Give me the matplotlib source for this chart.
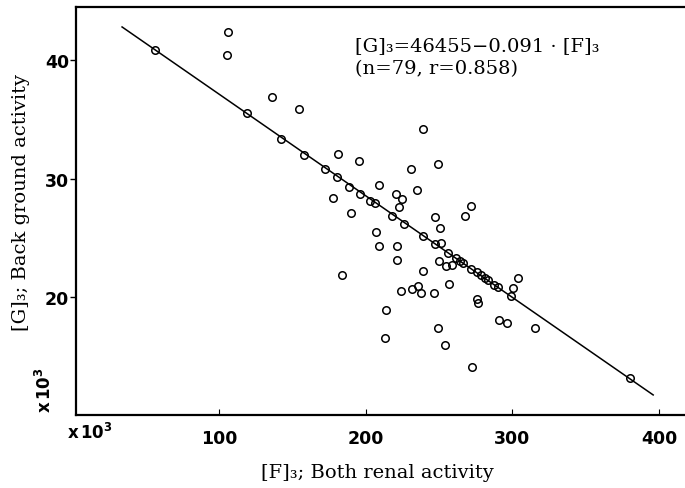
import matplotlib
matplotlib.use("Agg")
import matplotlib.pyplot as plt

# Data (x10^3)
F = [56.1, 106.4, 105.3, 118.9, 136.0, 154.6, 142.3, 158.2, 181.4, 172.3,
     180.3, 178.0, 195.7, 230.7, 188.9, 209.3, 235.2, 196.2, 220.7, 224.9,
     203.0, 206.4, 222.8, 189.8, 218.2, 226.2, 207.1, 209.1, 221.6, 239.3,
     249.1, 271.6, 267.7, 247.3, 250.3, 239.3, 247.3, 251.2, 221.2, 184.1,
     223.9, 231.4, 213.7, 213.2, 255.9, 261.6, 263.9, 266.6, 271.8, 275.7,
     278.4, 281.4, 283.0, 287.7, 290.0, 299.1, 249.6, 254.8, 259.1, 239.3,
     235.9, 237.8, 246.6, 256.4, 304.1, 300.3, 276.1, 276.4, 290.5, 296.6,
     315.5, 249.1, 254.1, 272.3, 379.8]
G = [40.84, 42.33, 40.45, 35.51, 36.86, 35.87, 33.35, 32.03, 32.08, 30.82,
     30.17, 28.38, 31.47, 30.82, 29.33, 29.47, 29.08, 28.72, 28.72, 28.30,
     28.15, 27.93, 27.60, 27.12, 26.84, 26.19, 25.49, 24.36, 24.36, 34.19,
     31.24, 27.73, 26.84, 26.75, 25.83, 25.20, 24.50, 24.59, 23.18, 21.89,
     20.57, 20.72, 18.92, 16.62, 23.75, 23.30, 23.10, 22.88, 22.40, 22.12,
     21.92, 21.62, 21.50, 21.08, 20.86, 20.15, 23.10, 22.63, 22.76, 22.26,
     20.94, 20.38, 20.35, 21.14, 21.64, 20.78, 19.87, 19.54, 18.13, 17.83,
     17.41, 17.41, 16.00, 14.12, 13.20]

line_F = [33.9, 395.9]
line_G = [42.78, 11.79]

x_ticks = [100, 200, 300, 400]
y_ticks = [20, 30, 40]

fig = plt.figure(figsize=(6.85, 4.89), dpi=100)
W, H = 685, 489
ax = fig.add_axes([76 / W, 1 - 416 / H, 1 - 76 / W, (416 - 8) / H])

ax.plot(line_F, line_G, color="black", lw=1.1, zorder=2)
ax.plot(F, G, linestyle="none", marker="o", markersize=5.4,
        markerfacecolor="none", markeredgecolor="black",
        markeredgewidth=1.1, zorder=3)

ax.set_xlim(2.5, 417.6)
ax.set_ylim(10.1, 44.46)

for s in ["left", "bottom", "top"]:
    ax.spines[s].set_linewidth(1.6)
ax.spines["right"].set_visible(False)

ax.set_xticks(x_ticks)
ax.set_yticks(y_ticks)
ax.set_xticklabels([str(v) for v in x_ticks], fontweight="bold",
                   fontsize=12.5, family="DejaVu Sans")
ax.set_yticklabels([str(v) for v in y_ticks], fontweight="bold",
                   fontsize=12.5, family="DejaVu Sans")
ax.tick_params(axis="x", direction="in", length=4, width=0.8, pad=10)
ax.tick_params(axis="y", direction="out", length=4, width=1.0, pad=1)

# multiplier labels
fig.text(90 / W, 1 - 433 / H, r"$\mathbf{x\,10^3}$", ha="center", va="center",
         fontsize=12)
fig.text(45 / W, 1 - 390 / H, r"$\mathbf{x\,10^3}$", ha="center", va="center",
         fontsize=12, rotation=90)

# axis labels
serif = ["DejaVu Serif"]
fig.text(377 / W, 1 - 473 / H, "[F]\u2083; Both renal activity",
         ha="center", va="center", fontsize=14, family=serif)
fig.text(21 / W, 1 - 203 / H, "[G]\u2083; Back ground activity",
         ha="center", va="center", fontsize=14, family=serif, rotation=90)

# equation
fig.text(355 / W, 1 - 46 / H, "[G]\u2083=46455\u22120.091 \u00b7 [F]\u2083",
         ha="left", va="center", fontsize=14, family=serif)
fig.text(355 / W, 1 - 69 / H, "(n=79, r=0.858)",
         ha="left", va="center", fontsize=14, family=serif)

fig.savefig("out.png", dpi=100)
